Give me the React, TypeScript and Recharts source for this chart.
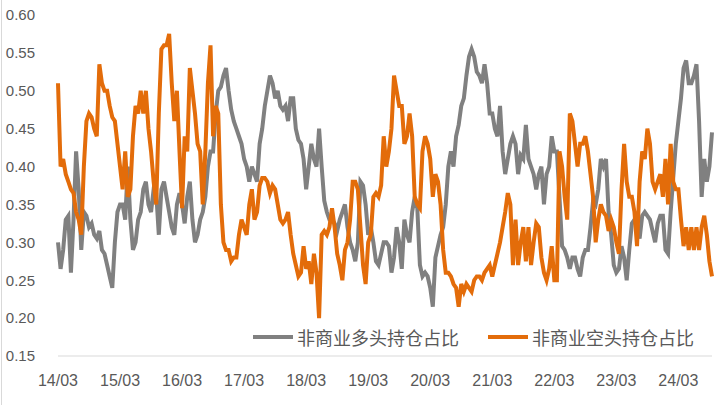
import React from 'react';
import { LineChart, Line, XAxis, YAxis } from 'recharts';

// 年度刻度标签（每24个半月点一个）
const yearLabels = ['14/03', '15/03', '16/03', '17/03', '18/03', '19/03', '20/03', '21/03', '22/03', '23/03', '24/03'];
const yTicks = [0.15, 0.2, 0.25, 0.3, 0.35, 0.4, 0.45, 0.5, 0.55, 0.6];

// 非商业多头持仓占比
const longShare = [
  0.30, 0.265, 0.29, 0.33, 0.335, 0.26, 0.33, 0.42, 0.37, 0.29, 0.34, 0.335, 0.32, 0.325, 0.31, 0.305, 0.315, 0.29, 0.285, 0.27, 0.255, 0.24, 0.30, 0.34,
  0.35, 0.35, 0.33, 0.40, 0.33, 0.29, 0.30, 0.33, 0.34, 0.37, 0.38, 0.35, 0.34, 0.37, 0.365, 0.31, 0.37, 0.38, 0.36, 0.34, 0.32, 0.31, 0.35, 0.365,
  0.35, 0.325, 0.36, 0.38, 0.33, 0.30, 0.31, 0.33, 0.34, 0.36, 0.40, 0.42, 0.42, 0.47, 0.50, 0.505, 0.52, 0.53, 0.50, 0.475, 0.46, 0.45, 0.44, 0.43,
  0.41, 0.40, 0.38, 0.40, 0.39, 0.38, 0.43, 0.45, 0.48, 0.50, 0.52, 0.51, 0.49, 0.50, 0.48, 0.475, 0.48, 0.46, 0.49, 0.49, 0.45, 0.435, 0.43, 0.41,
  0.37, 0.40, 0.43, 0.41, 0.40, 0.45, 0.40, 0.355, 0.34, 0.33, 0.33, 0.325, 0.315, 0.33, 0.34, 0.35, 0.32, 0.30, 0.29, 0.275, 0.30, 0.38, 0.375, 0.35,
  0.31, 0.32, 0.30, 0.275, 0.27, 0.285, 0.30, 0.30, 0.295, 0.26, 0.28, 0.32, 0.30, 0.265, 0.33, 0.31, 0.30, 0.34, 0.36, 0.345, 0.27, 0.255, 0.26, 0.255,
  0.24, 0.215, 0.28, 0.295, 0.31, 0.32, 0.35, 0.40, 0.42, 0.40, 0.44, 0.455, 0.48, 0.49, 0.52, 0.545, 0.555, 0.545, 0.525, 0.52, 0.51, 0.535, 0.51, 0.47,
  0.47, 0.45, 0.44, 0.48, 0.42, 0.39, 0.41, 0.43, 0.44, 0.43, 0.39, 0.415, 0.41, 0.455, 0.41, 0.40, 0.39, 0.37, 0.39, 0.40, 0.35, 0.39, 0.40, 0.44,
  0.42, 0.42, 0.36, 0.295, 0.29, 0.28, 0.265, 0.28, 0.28, 0.265, 0.255, 0.28, 0.29, 0.29, 0.32, 0.355, 0.35, 0.37, 0.41, 0.40, 0.41, 0.34, 0.31, 0.27,
  0.26, 0.265, 0.295, 0.28, 0.25, 0.29, 0.325, 0.33, 0.32, 0.305, 0.335, 0.34, 0.335, 0.33, 0.315, 0.30, 0.325, 0.335, 0.335, 0.29, 0.285, 0.34, 0.385, 0.43,
  0.46, 0.49, 0.53, 0.54, 0.51, 0.51, 0.52, 0.535, 0.46, 0.36, 0.41, 0.38, 0.40, 0.445,
];

// 非商业空头持仓占比
const shortShare = [
  0.51, 0.40, 0.41, 0.39, 0.38, 0.37, 0.365, 0.34, 0.33, 0.31, 0.40, 0.46, 0.47, 0.465, 0.45, 0.44, 0.535, 0.51, 0.50, 0.50, 0.48, 0.465, 0.46, 0.43,
  0.40, 0.37, 0.42, 0.36, 0.37, 0.44, 0.48, 0.47, 0.50, 0.47, 0.50, 0.45, 0.42, 0.38, 0.35, 0.47, 0.555, 0.56, 0.56, 0.575, 0.51, 0.46, 0.50, 0.42,
  0.345, 0.44, 0.42, 0.53, 0.50, 0.47, 0.43, 0.42, 0.35, 0.42, 0.51, 0.56, 0.44, 0.48, 0.47, 0.35, 0.30, 0.29, 0.29, 0.275, 0.28, 0.28, 0.31, 0.33,
  0.32, 0.31, 0.35, 0.37, 0.33, 0.34, 0.375, 0.385, 0.385, 0.38, 0.365, 0.375, 0.37, 0.35, 0.33, 0.325, 0.33, 0.34, 0.31, 0.285, 0.27, 0.255, 0.26, 0.295,
  0.265, 0.275, 0.245, 0.285, 0.26, 0.20, 0.31, 0.315, 0.31, 0.32, 0.345, 0.32, 0.285, 0.27, 0.25, 0.29, 0.30, 0.33, 0.38, 0.38, 0.37, 0.32, 0.27, 0.245,
  0.30, 0.31, 0.36, 0.365, 0.36, 0.375, 0.44, 0.40, 0.42, 0.45, 0.52, 0.50, 0.48, 0.48, 0.43, 0.44, 0.47, 0.44, 0.36, 0.35, 0.345, 0.42, 0.44, 0.43,
  0.41, 0.36, 0.39, 0.38, 0.35, 0.29, 0.26, 0.26, 0.255, 0.245, 0.24, 0.215, 0.245, 0.235, 0.245, 0.24, 0.235, 0.25, 0.255, 0.255, 0.25, 0.26, 0.265, 0.27,
  0.255, 0.27, 0.285, 0.30, 0.32, 0.34, 0.365, 0.35, 0.27, 0.33, 0.27, 0.30, 0.32, 0.275, 0.32, 0.27, 0.30, 0.325, 0.32, 0.28, 0.26, 0.25, 0.265, 0.295,
  0.25, 0.25, 0.42, 0.40, 0.36, 0.33, 0.47, 0.46, 0.43, 0.40, 0.43, 0.43, 0.44, 0.42, 0.39, 0.36, 0.30, 0.33, 0.35, 0.34, 0.335, 0.315, 0.33, 0.32,
  0.30, 0.285, 0.37, 0.43, 0.38, 0.36, 0.36, 0.34, 0.295, 0.38, 0.42, 0.41, 0.45, 0.43, 0.38, 0.37, 0.38, 0.39, 0.36, 0.41, 0.35, 0.43, 0.38, 0.37,
  0.37, 0.33, 0.295, 0.32, 0.29, 0.32, 0.29, 0.32, 0.29, 0.32, 0.335, 0.31, 0.275, 0.255,
];

const GREY = '#808080';
const ORANGE = '#E36C0A';
const TEXT = '#595959';
const PER_YEAR = 24;

const data = longShare.map((v, i) => ({ i, long: v, short: shortShare[i] }));
const xTicks = yearLabels.map((_, k) => k * PER_YEAR);

const LegendItem = ({ color, label }: { color: string; label: string }) => (
  <div style={{ display: 'flex', alignItems: 'center', marginRight: 29, whiteSpace: 'nowrap' }}>
    <div style={{ width: 40, height: 4, background: color, marginRight: 4 }} />
    <span style={{ fontSize: 18, lineHeight: '24px', color: TEXT }}>{label}</span>
  </div>
);

export default function App() {
  return (
    <div style={{ position: 'absolute', left: 0, top: 0, width: 719, height: 405, background: '#fff', fontFamily: '"Liberation Sans", "Noto Sans CJK SC", sans-serif' }}>
      <LineChart width={719} height={405} data={data} margin={{ top: 15, right: 7, bottom: 19, left: 0 }}>
        <XAxis
          dataKey="i"
          type="number"
          domain={[0, longShare.length - 1]}
          ticks={xTicks}
          tickFormatter={(v: number) => yearLabels[Math.round(v / PER_YEAR)]}
          axisLine={{ stroke: '#d9d9d9', strokeWidth: 1 }}
          tickLine={false}
          tickSize={0}
          tickMargin={19}
          height={30}
          tick={{ fill: TEXT, fontSize: 16 }}
          interval={0}
        />
        <YAxis
          domain={[0.15, 0.6]}
          ticks={yTicks}
          tickFormatter={(v: number) => v.toFixed(2)}
          axisLine={false}
          tickLine={false}
          tickSize={0}
          tickMargin={23}
          width={58}
          tick={{ fill: TEXT, fontSize: 15 }}
          interval={0}
        />
        <Line type="linear" dataKey="long" stroke={GREY} strokeWidth={4} dot={false} isAnimationActive={false} />
        <Line type="linear" dataKey="short" stroke={ORANGE} strokeWidth={4} dot={false} isAnimationActive={false} />
      </LineChart>
      <div style={{ position: 'absolute', left: 253, top: 325, display: 'flex', whiteSpace: 'nowrap', fontFamily: '"Noto Sans CJK SC", sans-serif' }}>
        <LegendItem color={GREY} label="非商业多头持仓占比" />
        <LegendItem color={ORANGE} label="非商业空头持仓占比" />
      </div>
      <div style={{ position: 'absolute', left: 1, top: 0, width: 1, height: 405, background: '#d9d9d9' }} />
    </div>
  );
}
